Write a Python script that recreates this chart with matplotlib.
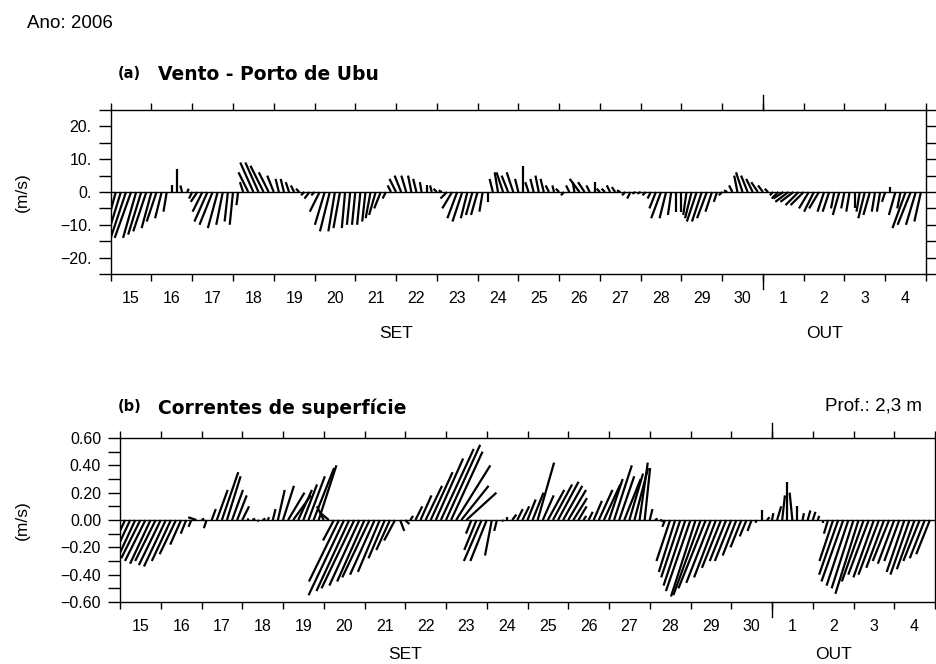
import matplotlib

matplotlib.use("Agg")
import numpy as np
from matplotlib import pyplot as plt
from matplotlib.collections import LineCollection

plt.rcParams["font.family"] = ["Liberation Sans", "DejaVu Sans"]

W, H = 937, 664

# day labels (15 Sep .. 4 Oct 2006), one sample every 3 h (00, 03, ..., 21)
DAY_LABELS = ["15", "16", "17", "18", "19", "20", "21", "22", "23", "24",
              "25", "26", "27", "28", "29", "30", "1", "2", "3", "4"]

# wind at Porto de Ubu (m/s)
WIND_V = [
    [-9, -11, -13, -15, -14, -14, -13, -12],      # 15
    [-11, -9, -8, -6, 2, 7, 2, 1],                # 16
    [-2, -3, -6, -9, -10, -11, -10, -9],          # 17
    [-10, -4, 3, 6, 9, 9, 8, 6],                  # 18
    [5, 4, 4, 3, 2, 1, -1, -2],                   # 19
    [-1, -6, -10, -12, -12, -11, -11, -10],       # 20
    [-10, -10, -9, -8, -7, -5, -2, 2],            # 21
    [4, 5, 5, 5, 4, 3, 2, 2],                     # 22
    [1, 0.5, -2, -5, -8, -9, -8, -7],             # 23
    [-7, -6, -3, 4, 6, 6, 5, 6],                  # 24
    [4, 8, 3, 4, 5, 4, 2, 2],                     # 25
    [1, -1, 2, 3, 4, 3, 2, 3],                    # 26
    [1, 1, 2, 1.5, 0.5, -1, -2, -0.5],            # 27
    [-0.5, -1, -2, -5, -8, -8, -7, -6],           # 28
    [-6, -7, -8, -9, -9, -8, -6, -3],             # 29
    [-1, 0.5, 2, 5, 6, 5, 4, 3],                  # 30
    [2, 1, -1, -2, -2, -3, -3, -4],               # 1
    [-4, -5, -6, -5, -6, -6, -5, -7],             # 2
    [-5, -6, -5, -6, -8, -7, -6, -6],             # 3
    [-3, 1.5, -7, -5, -11, -10, -10, -9],         # 4
]
WIND_U = [
    [-2, -3, -4, -5, -5, -4, -4, -4],
    [-3, -3, -2, -1, 0, 0, -0.5, 0.5],
    [-1, -2, -3, -4, -4, -3, -2, -1],
    [-1, -0.5, -1, -3, -4, -4, -4, -3],
    [-2, -1, -1, -1, -1, -1, -1, -1.5],
    [-1, -3, -3, -3, -2, -2, -1, -1],
    [-1, -1, -1, -1.5, -2, -2, -1, -1],
    [-2, -2, -1.5, -1, -1, -0.5, 0, -0.5],
    [-1, -1, -2, -3, -3, -3, -2, -2],
    [-2, -1, 0, -1, -1, -2, -2, -2],
    [-1, 0, -1, -1, -1, -1, -1, -0.5],
    [-1, -1, -1, -0.5, -3, -2, -1, 0],
    [-1, -1, -1, -1, -1, -1, -1, -1],
    [-1, -1, -1, -2, -3, -2, -1, 0],
    [0, -1, -2, -3, -3, -3, -2, -1],
    [-1, -1, -1, -1, -2, -2, -2, -2],
    [-1.5, -1, -1, -2, -3, -4, -4, -4],
    [-4, -3, -3, -3, -2, -2, -1, -2],
    [-1, -1, 0, -1, -2, -2, -1, -1],
    [-1, 0, -2, -1, -4, -4, -3, -2],
]

# surface currents, 2.3 m depth (m/s)
CUR_V = [
    [-0.30, -0.28, -0.30, -0.30, -0.28, -0.30, -0.32, -0.30],   # 15
    [-0.33, -0.34, -0.30, -0.25, -0.18, -0.10, -0.05, 0.02],    # 16
    [0.01, -0.06, 0.08, 0.22, 0.35, 0.32, 0.22, 0.18],          # 17
    [0.10, 0.01, 0.01, -0.01, 0.01, 0.02, 0.08, 0.22],          # 18
    [0.25, 0.20, 0.18, 0.22, 0.26, 0.32, 0.38, 0.40],           # 19
    [0.10, 0.05, -0.15, -0.45, -0.55, -0.52, -0.50, -0.48],     # 20
    [-0.45, -0.42, -0.40, -0.38, -0.28, -0.22, -0.15, -0.08],   # 21
    [-0.03, 0.03, 0.10, 0.18, 0.25, 0.35, 0.45, 0.52],          # 22
    [0.55, 0.50, 0.40, 0.25, 0.20, -0.10, -0.22, -0.30],        # 23
    [-0.30, -0.26, -0.08, -0.01, 0.02, 0.04, 0.08, 0.10],       # 24
    [0.15, 0.20, 0.42, 0.18, 0.22, 0.26, 0.28, 0.25],           # 25
    [0.22, 0.16, 0.10, 0.03, 0.06, 0.14, 0.22, 0.26],           # 26
    [0.30, 0.40, 0.32, 0.30, 0.34, 0.38, 0.42, 0.38],           # 27
    [0.08, 0.01, -0.01, -0.05, -0.30, -0.38, -0.42, -0.48],     # 28
    [-0.52, -0.56, -0.55, -0.50, -0.46, -0.42, -0.35, -0.30],   # 29
    [-0.30, -0.26, -0.20, -0.12, -0.08, -0.02, 0.07, 0.02],     # 30
    [0.05, 0.10, 0.18, 0.28, 0.20, 0.10, 0.05, 0.07],           # 1
    [0.06, 0.03, -0.02, -0.10, -0.30, -0.40, -0.45, -0.48],     # 2
    [-0.50, -0.54, -0.45, -0.40, -0.42, -0.40, -0.35, -0.30],   # 3
    [-0.32, -0.30, -0.38, -0.40, -0.36, -0.30, -0.28, -0.25],   # 4
]
CUR_U = [
    [-0.14, -0.13, -0.14, -0.14, -0.14, -0.15, -0.15, -0.15],
    [-0.16, -0.16, -0.14, -0.12, -0.08, -0.04, -0.02, -0.06],
    [0.02, -0.02, 0.03, 0.08, 0.12, 0.10, 0.08, 0.07],
    [0.05, 0.01, 0.02, 0.01, 0.02, 0.01, 0.02, 0.05],
    [0.08, 0.12, 0.13, 0.10, 0.10, 0.12, 0.15, 0.13],
    [-0.05, -0.06, -0.08, -0.22, -0.26, -0.24, -0.24, -0.22],
    [-0.20, -0.20, -0.18, -0.16, -0.12, -0.10, -0.08, 0.03],
    [0.03, 0.02, 0.05, 0.08, 0.12, 0.16, 0.20, 0.24],
    [0.25, 0.23, 0.25, 0.20, 0.22, -0.04, -0.09, -0.13],
    [-0.12, -0.05, -0.02, 0.01, 0.00, 0.03, 0.04, 0.05],
    [0.06, 0.08, 0.12, 0.08, 0.12, 0.14, 0.15, 0.14],
    [0.13, 0.10, 0.06, 0.02, 0.03, 0.06, 0.10, 0.12],
    [0.10, 0.13, 0.11, 0.12, 0.10, 0.10, 0.06, 0.04],
    [0.02, 0.02, 0.03, -0.02, -0.10, -0.12, -0.14, -0.16],
    [-0.18, -0.18, -0.20, -0.20, -0.18, -0.16, -0.14, -0.12],
    [-0.12, -0.10, -0.08, -0.05, -0.03, -0.01, 0.00, 0.02],
    [0.01, 0.03, 0.02, 0.00, -0.02, 0.00, 0.01, 0.02],
    [0.02, 0.01, 0.00, -0.03, -0.10, -0.14, -0.16, -0.16],
    [-0.16, -0.17, -0.16, -0.15, -0.15, -0.15, -0.13, -0.12],
    [-0.12, -0.11, -0.13, -0.14, -0.13, -0.12, -0.11, -0.10],
]

N_DAYS = len(DAY_LABELS)
OCT_1 = 16  # day index of the month change


def px_rect(left, top, right, bottom):
    return [left / W, 1 - bottom / H, (right - left) / W, (bottom - top) / H]


def draw_sticks(ax, u, v, ymax):
    u = np.ravel(u)
    v = np.ravel(v)
    t = np.arange(len(v)) / 8.0
    box = ax.get_window_extent()
    px_per_day = box.width / N_DAYS
    px_per_unit = box.height / (2 * ymax)
    dx = u * px_per_unit / px_per_day
    base = np.column_stack([t, np.zeros_like(t)])
    tip = np.column_stack([t + dx, v])
    segs = np.stack([base, tip], axis=1)
    ax.add_collection(LineCollection(segs, colors="black", linewidths=1.6,
                                     capstyle="butt"))
    ax.axhline(0, color="black", lw=1.0)


def style_axis(ax, ymax, major, minor, labels):
    ax.set_xlim(0, N_DAYS)
    ax.set_ylim(-ymax, ymax)
    ax.set_xticks(np.arange(N_DAYS + 1))
    ax.set_xticklabels([])
    ax.set_xticks(np.arange(N_DAYS) + 0.5, minor=True)
    ax.set_xticklabels(DAY_LABELS, minor=True)
    ax.set_yticks(major)
    ax.set_yticklabels(labels)
    ax.set_yticks(minor, minor=True)
    ax.tick_params(axis="both", which="both", direction="out", width=1,
                   top=True, right=True, labelsize=11.5, colors="black")
    ax.tick_params(axis="x", which="major", length=5)
    ax.tick_params(axis="x", which="minor", length=0, pad=12)
    ax.tick_params(axis="y", which="both", length=8.6, pad=5)
    for spine in ax.spines.values():
        spine.set_linewidth(1)
    # longer mark at the month change
    tr = ax.get_xaxis_transform()
    ext = 15 / (ax.get_window_extent().height)
    ax.plot([OCT_1, OCT_1], [1, 1 + ext], color="black", lw=1,
            transform=tr, clip_on=False)
    ax.plot([OCT_1, OCT_1], [0, -ext], color="black", lw=1,
            transform=tr, clip_on=False)


fig = plt.figure(figsize=(W / 100, H / 100), dpi=100)

ax_a = fig.add_axes(px_rect(110.7, 110, 926, 274))
ax_b = fig.add_axes(px_rect(120, 438, 935, 602))

style_axis(ax_a, 25, [-20, -10, 0, 10, 20], [-25, -15, -5, 5, 15, 25],
           ["\u221220.", "\u221210.", "0.", "10.", "20."])
style_axis(ax_b, 0.6, [-0.6, -0.4, -0.2, 0, 0.2, 0.4, 0.6],
           [-0.5, -0.3, -0.1, 0.1, 0.3, 0.5],
           ["\u22120.60", "\u22120.40", "\u22120.20", "0.00",
            "0.20", "0.40", "0.60"])

draw_sticks(ax_a, WIND_U, WIND_V, 25)
draw_sticks(ax_b, CUR_U, CUR_V, 0.6)

for ax, y_month in ((ax_a, -0.36), (ax_b, -0.32)):
    tr = ax.get_xaxis_transform()
    ax.text(7.0, y_month, "SET", transform=tr, ha="center", va="center",
            fontsize=12.5)
    ax.text(17.5, y_month, "OUT", transform=tr, ha="center", va="center",
            fontsize=12.5)

fig.text(22 / W, 1 - 192 / H, "(m/s)", rotation=90, ha="center",
         va="center", fontsize=12.5)
fig.text(22 / W, 1 - 520 / H, "(m/s)", rotation=90, ha="center",
         va="center", fontsize=12.5)

fig.text(27 / W, 1 - 23 / H, "Ano: 2006", ha="left", va="center",
         fontsize=13.5)

fig.text(118 / W, 1 - 73 / H, "(a)", ha="left", va="center", fontsize=10.5,
         fontweight="bold", family="DejaVu Sans")
fig.text(158 / W, 1 - 75 / H, "Vento - Porto de Ubu", ha="left",
         va="center", fontsize=13.5, fontweight="bold", family="DejaVu Sans")
fig.text(118 / W, 1 - 406 / H, "(b)", ha="left", va="center", fontsize=10.5,
         fontweight="bold", family="DejaVu Sans")
fig.text(158 / W, 1 - 408 / H, "Correntes de superfície", ha="left",
         va="center", fontsize=13.5, fontweight="bold", family="DejaVu Sans")
fig.text(922 / W, 1 - 406 / H, "Prof.: 2,3 m", ha="right", va="center",
         fontsize=13.5)

fig.savefig("out.png", dpi=100)
